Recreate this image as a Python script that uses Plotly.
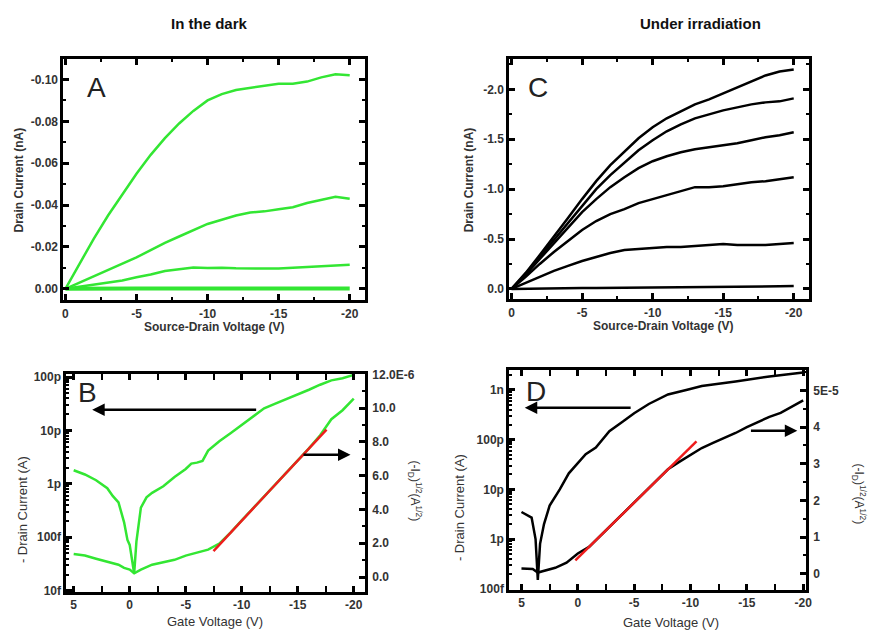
import plotly.graph_objects as go

W, H = 873, 635


def px(x):
    return x / W


def py(y):
    return 1 - y / H


# ---------------- DATA ----------------
# Panel A: output curves in the dark (drain current, nA)
vsd = [0, -1, -2, -3, -4, -5, -6, -7, -8, -9, -10, -11, -12, -13, -14, -15, -16, -17, -18, -19, -20]
a_id_1 = [0, -0.012, -0.024, -0.035, -0.045, -0.055, -0.064, -0.072, -0.079, -0.085, -0.090,
          -0.093, -0.095, -0.096, -0.097, -0.098, -0.098, -0.099, -0.101, -0.1025, -0.102]
a_id_2 = [0, -0.003, -0.006, -0.009, -0.012, -0.015, -0.0185, -0.022, -0.025, -0.028, -0.031,
          -0.033, -0.035, -0.0365, -0.037, -0.038, -0.039, -0.041, -0.0425, -0.044, -0.043]
a_id_3 = [0, -0.001, -0.002, -0.003, -0.004, -0.0055, -0.0068, -0.0085, -0.0092, -0.0102, -0.0100,
          -0.0101, -0.0098, -0.0097, -0.0099, -0.0097, -0.0101, -0.0104, -0.0108, -0.0110, -0.0115]
a_id_4 = [0, -0.0001, -0.0001, -0.0001, -0.0001, -0.0001, -0.0001, -0.0001, -0.0001, -0.0001, -0.0001,
          -0.0001, -0.0001, -0.0001, -0.0001, -0.0001, -0.0001, -0.0001, -0.0001, -0.0001, -0.0001]

# Panel C: output curves under irradiation (drain current, nA)
c_id_1 = [0, -0.16, -0.34, -0.52, -0.71, -0.90, -1.08, -1.24, -1.38, -1.51, -1.62,
          -1.71, -1.78, -1.85, -1.90, -1.96, -2.02, -2.08, -2.14, -2.18, -2.20]
c_id_2 = [0, -0.15, -0.32, -0.49, -0.67, -0.84, -1.00, -1.14, -1.27, -1.39, -1.49,
          -1.58, -1.65, -1.71, -1.75, -1.79, -1.82, -1.85, -1.87, -1.88, -1.91]
c_id_3 = [0, -0.14, -0.30, -0.46, -0.62, -0.77, -0.90, -1.02, -1.12, -1.21, -1.28,
          -1.33, -1.37, -1.40, -1.42, -1.44, -1.46, -1.49, -1.52, -1.54, -1.57]
c_id_4 = [0, -0.12, -0.25, -0.37, -0.48, -0.59, -0.68, -0.75, -0.80, -0.86, -0.90,
          -0.94, -0.98, -1.02, -1.02, -1.03, -1.05, -1.07, -1.08, -1.10, -1.12]
c_id_5 = [0, -0.06, -0.12, -0.18, -0.23, -0.28, -0.32, -0.36, -0.39, -0.40, -0.41,
          -0.42, -0.42, -0.43, -0.44, -0.45, -0.44, -0.44, -0.44, -0.45, -0.46]
c_id_6 = [0, -0.003, -0.005, -0.006, -0.007, -0.008, -0.009, -0.010, -0.011, -0.012, -0.012,
          -0.013, -0.014, -0.015, -0.016, -0.017, -0.018, -0.020, -0.023, -0.026, -0.030]

# Panel B: transfer curve in the dark
b_vg_log = [5, 4, 3, 2, 1.5, 1, 0.5, 0.2, 0, -0.4, -0.6, -0.8, -1, -1.5, -2, -3, -4, -5, -5.5, -6,
            -6.5, -7, -8, -9, -10, -11, -12, -13, -14, -15, -16, -17, -18, -19, -20]
b_id_log = [1.8e-12, 1.5e-12, 1.17e-12, 8.3e-13, 5.9e-13, 4.5e-13, 1.9e-13, 8.9e-14, 7.2e-14, 2.1e-14,
            8.3e-14, 1.6e-13, 3.6e-13, 5.6e-13, 6.8e-13, 9.0e-13, 1.35e-12, 1.9e-12, 2.4e-12, 2.5e-12,
            2.7e-12, 4.2e-12, 6.3e-12, 8.9e-12, 1.26e-11, 1.78e-11, 2.6e-11, 3.2e-11, 3.9e-11, 4.6e-11,
            5.8e-11, 7.2e-11, 8.7e-11, 9.5e-11, 1.1e-10]
b_vg_sq = [5, 4, 3, 2, 1, 0.5, 0, -0.4, -0.6, -1, -2, -3, -4, -5, -6, -7, -8, -9, -10, -11,
           -12, -13, -14, -15, -16, -17, -18, -19, -20]
b_sqrt = [1.37e-6, 1.27e-6, 1.08e-6, 0.92e-6, 0.73e-6, 0.54e-6, 0.44e-6, 0.22e-6, 0.31e-6, 0.44e-6,
          0.73e-6, 0.89e-6, 1.02e-6, 1.27e-6, 1.45e-6, 1.62e-6, 1.98e-6, 2.63e-6, 3.35e-6, 4.06e-6,
          4.77e-6, 5.48e-6, 6.20e-6, 6.91e-6, 7.62e-6, 8.40e-6, 9.35e-6, 9.88e-6, 10.56e-6]
b_fit_vg = [-7.48, -17.57]
b_fit_sqrt = [1.54e-6, 8.73e-6]

# Panel D: transfer curve under irradiation
d_vg_log = [5, 4.1, 3.75, 3.55, 3.35, 3.0, 2.5, 1.6, 0.8, 0, -0.7, -1.6, -2.8, -4, -5, -6.3,
            -8, -9.8, -11, -14, -17, -20]
d_id_log = [3.5e-12, 2.7e-12, 1.0e-12, 1.5e-13, 8.0e-13, 2.0e-12, 4.7e-12, 1.0e-11, 2.1e-11, 3.3e-11,
            5.1e-11, 6.9e-11, 1.48e-10, 2.3e-10, 3.4e-10, 5.2e-10, 8.1e-10, 1.02e-9, 1.2e-9, 1.48e-9,
            1.86e-9, 2.24e-9]
d_vg_sq = [5, 4, 3.55, 3, 2, 1, 0, -1, -2, -4, -6, -8, -9, -10, -11, -12, -13, -14, -15, -16,
           -17, -18, -19, -20]
d_sqrt = [0.14e-5, 0.13e-5, 0.03e-5, 0.07e-5, 0.16e-5, 0.30e-5, 0.55e-5, 0.73e-5, 1.03e-5, 1.64e-5,
          2.24e-5, 2.85e-5, 3.05e-5, 3.25e-5, 3.43e-5, 3.57e-5, 3.70e-5, 3.84e-5, 4.00e-5, 4.15e-5,
          4.28e-5, 4.39e-5, 4.55e-5, 4.73e-5]
d_fit_vg = [0.22, -10.53]
d_fit_sqrt = [0.36e-5, 3.61e-5]

# Tick labels
vsd_tickvals = [0, -5, -10, -15, -20]
vsd_ticktext = ["0", "-5", "-10", "-15", "-20"]
vg_tickvals = [5, 0, -5, -10, -15, -20]
vg_ticktext = ["5", "0", "-5", "-10", "-15", "-20"]
a_tickvals = [0, -0.02, -0.04, -0.06, -0.08, -0.10]
a_ticktext = ["0.00", "-0.02", "-0.04", "-0.06", "-0.08", "-0.10"]
c_tickvals = [0, -0.5, -1.0, -1.5, -2.0]
c_ticktext = ["0.0", "-0.5", "-1.0", "-1.5", "-2.0"]
b_log_tickvals = [1e-14, 1e-13, 1e-12, 1e-11, 1e-10]
b_log_ticktext = ["10f", "100f", "1p", "10p", "100p"]
b_sq_tickvals = [0, 2e-6, 4e-6, 6e-6, 8e-6, 10e-6, 12e-6]
b_sq_ticktext = ["0.0", "2.0", "4.0", "6.0", "8.0", "10.0", "12.0E-6"]
d_log_tickvals = [1e-13, 1e-12, 1e-11, 1e-10, 1e-9]
d_log_ticktext = ["100f", "1p", "10p", "100p", "1n"]
d_sq_tickvals = [0, 1e-5, 2e-5, 3e-5, 4e-5, 5e-5]
d_sq_ticktext = ["0", "1", "2", "3", "4", "5E-5"]
minor_digits = [2, 3, 4, 5, 6, 7, 8, 9]
b_minor_log = [k * d for d in b_log_tickvals[:-1] for k in minor_digits]
d_minor_log = [k * d for d in d_log_tickvals for k in minor_digits]

# Arrows (data coordinates: tail -> head)
b_arrow_left = dict(tail=-11.42, head=3.35, level=-10.61)       # on log axis (exponent)
b_arrow_right = dict(tail=-15.38, head=-19.71, level=7.24e-6)   # on sqrt axis
d_arrow_left = dict(tail=-4.82, head=4.71, level=-9.357)
d_arrow_right = dict(tail=-15.23, head=-19.48, level=3.90e-5)

# ---------------- STYLE ----------------
GREEN = "#33e633"
RED = "#ee1c1c"
FONT = "Liberation Sans, Arial, sans-serif"
TXT = "#333333"
NB = "\u00a0\u00a0"
tickfont = dict(family=FONT, size=12, color=TXT, weight="bold")

B_LOG_RANGE = [-14.02, -9.94]
D_LOG_RANGE = [-13.02, -8.6]

fig = go.Figure()


def line(x, y, xa, ya, color, width=2.5):
    fig.add_trace(go.Scatter(x=x, y=y, xaxis=xa, yaxis=ya, mode="lines",
                             line=dict(color=color, width=width), showlegend=False,
                             hoverinfo="skip"))


for ys in (a_id_1, a_id_2, a_id_3):
    line(vsd, ys, "x", "y", GREEN)
line(vsd, a_id_4, "x", "y", GREEN, 4)

line(b_vg_log, b_id_log, "x2", "y3", GREEN)
line(b_vg_sq, b_sqrt, "x2", "y4", GREEN)
line(b_fit_vg, b_fit_sqrt, "x2", "y4", RED)

for ys in (c_id_1, c_id_2, c_id_3, c_id_4, c_id_5, c_id_6):
    line(vsd, ys, "x3", "y5", "black")

line(d_vg_log, d_id_log, "x4", "y7", "black")
line(d_vg_sq, d_sqrt, "x4", "y8", "black")
line(d_fit_vg, d_fit_sqrt, "x4", "y8", RED)

# empty traces so the minor-tick overlay axes get drawn
fig.add_trace(go.Scatter(x=[None], y=[None], xaxis="x2", yaxis="y9", showlegend=False))
fig.add_trace(go.Scatter(x=[None], y=[None], xaxis="x4", yaxis="y10", showlegend=False))

base = dict(showline=True, linewidth=3, linecolor="black", ticks="inside", ticklen=6,
            tickwidth=2.5, tickcolor="black", showgrid=False, zeroline=False,
            tickfont=tickfont, tickmode="array")


def minor(step):
    return dict(tickmode="linear", tick0=0, dtick=step, ticks="inside", ticklen=3,
                tickwidth=2, tickcolor="black", showgrid=False)


def ax(dom, anchor, rng, tv, tt, step):
    d = dict(base)
    d.update(domain=dom, anchor=anchor, range=rng, tickvals=tv, ticktext=tt,
             mirror="allticks", minor=minor(step))
    return d


def log_minor_axis(over, anchor, rng, vals):
    return dict(overlaying=over, side="left", anchor=anchor, type="log", range=rng,
                showline=False, showgrid=False, zeroline=False, showticklabels=False,
                ticks="inside", ticklen=3, tickwidth=1.5, tickcolor="black",
                tickmode="array", tickvals=vals)


A_x = [px(63), px(367)]
A_y = [py(300), py(54)]
B_x = [px(66), px(367)]
B_y = [py(597), py(375)]
C_x = [px(513), px(815)]
C_y = [py(299), py(54)]
D_x = [px(513), px(812)]
D_y = [py(595), py(371)]

layout = dict(
    width=W, height=H, margin=dict(l=0, r=0, t=0, b=0),
    paper_bgcolor="white", plot_bgcolor="white", showlegend=False,
    xaxis=ax(A_x, "y", [0.14, -21.05], vsd_tickvals, vsd_ticktext, 2.5),
    yaxis=ax(A_y, "x", [0.0055, -0.1098], a_tickvals, a_ticktext, 0.01),
    xaxis2=ax(B_x, "y3", [5.65, -20.97], vg_tickvals, vg_ticktext, 2.5),
    yaxis3=dict(base, domain=B_y, anchor="x2", type="log", range=B_LOG_RANGE,
                tickvals=b_log_tickvals, ticktext=b_log_ticktext, mirror=True),
    yaxis4=dict(overlaying="y3", side="right", anchor="x2", range=[-0.87e-6, 12.03e-6],
                showline=False, showgrid=False, zeroline=False, ticks="inside", ticklen=6,
                tickwidth=2.5, tickcolor="black", tickmode="array", tickvals=b_sq_tickvals,
                ticktext=[NB + t for t in b_sq_ticktext], tickfont=tickfont,
                minor=minor(1e-6)),
    yaxis9=log_minor_axis("y3", "x2", B_LOG_RANGE, b_minor_log),
    xaxis3=ax(C_x, "y5", [0.16, -21.05], vsd_tickvals, vsd_ticktext, 2.5),
    yaxis5=ax(C_y, "x3", [0.105, -2.305], c_tickvals, c_ticktext, 0.25),
    xaxis4=ax(D_x, "y7", [6.08, -20.21], vg_tickvals, vg_ticktext, 2.5),
    yaxis7=dict(base, domain=D_y, anchor="x4", type="log", range=D_LOG_RANGE,
                tickvals=d_log_tickvals, ticktext=d_log_ticktext, mirror=True),
    yaxis8=dict(overlaying="y7", side="right", anchor="x4", range=[-0.44e-5, 5.56e-5],
                showline=False, showgrid=False, zeroline=False, ticks="inside", ticklen=6,
                tickwidth=2.5, tickcolor="black", tickmode="array", tickvals=d_sq_tickvals,
                ticktext=[NB + t for t in d_sq_ticktext], tickfont=tickfont,
                minor=minor(0.5e-5)),
    yaxis10=log_minor_axis("y7", "x4", D_LOG_RANGE, d_minor_log),
)
fig.update_layout(**layout)

ann = []


def text(x, y, s, size=12, bold=True, angle=0, color=TXT):
    ann.append(dict(xref="paper", yref="paper", x=px(x), y=py(y), text=s, showarrow=False,
                    textangle=angle, xanchor="center", yanchor="middle",
                    font=dict(family=FONT, size=size, color=color,
                              weight="bold" if bold else "normal")))


text(210, 18, "In the dark", 15, True, color="#111")
text(706, 18, "Under irradiation", 15, True, color="#111")
text(96, 83, "A", 28, False, color="#222")
text(87, 394, "B", 28, False, color="#222")
text(542, 83, "C", 28, False, color="#222")
text(540, 393, "D", 28, False, color="#222")

text(18, 177, "Drain Current (nA)", 12, True, -90)
text(215, 327, "Source-Drain Voltage (V)", 12, True)
text(472, 177, "Drain Current (nA)", 12, True, -90)
text(668, 326, "Source-Drain Voltage (V)", 12, True)
text(22, 513, "- Drain Current (A)", 13, False, -90)
text(216, 627, "Gate Voltage (V)", 13, False)
text(418, 494, "(-I<sub>D</sub>)<sup>1/2</sup>(A<sup>1/2</sup>)", 12, False, 90)
text(463, 511, "- Drain Current (A)", 13, False, -90)
text(676, 628, "Gate Voltage (V)", 13, False)
text(866, 497, "(-I<sub>D</sub>)<sup>1/2</sup>(A<sup>1/2</sup>)", 12, False, 90)


def arrow(xr, yr, a):
    ann.append(dict(xref=xr, yref=yr, axref=xr, ayref=yr, x=a["head"], y=a["level"],
                    ax=a["tail"], ay=a["level"], text="", showarrow=True, arrowhead=2,
                    arrowsize=1.0, arrowwidth=2.5, arrowcolor="black", standoff=0))


arrow("x2", "y3", b_arrow_left)
arrow("x2", "y4", b_arrow_right)
arrow("x4", "y7", d_arrow_left)
arrow("x4", "y8", d_arrow_right)

fig.update_layout(annotations=ann)
fig.write_html("out.html", config={"displayModeBar": False},
               post_script="document.body.style.margin='0px';document.body.style.padding='0px';")
